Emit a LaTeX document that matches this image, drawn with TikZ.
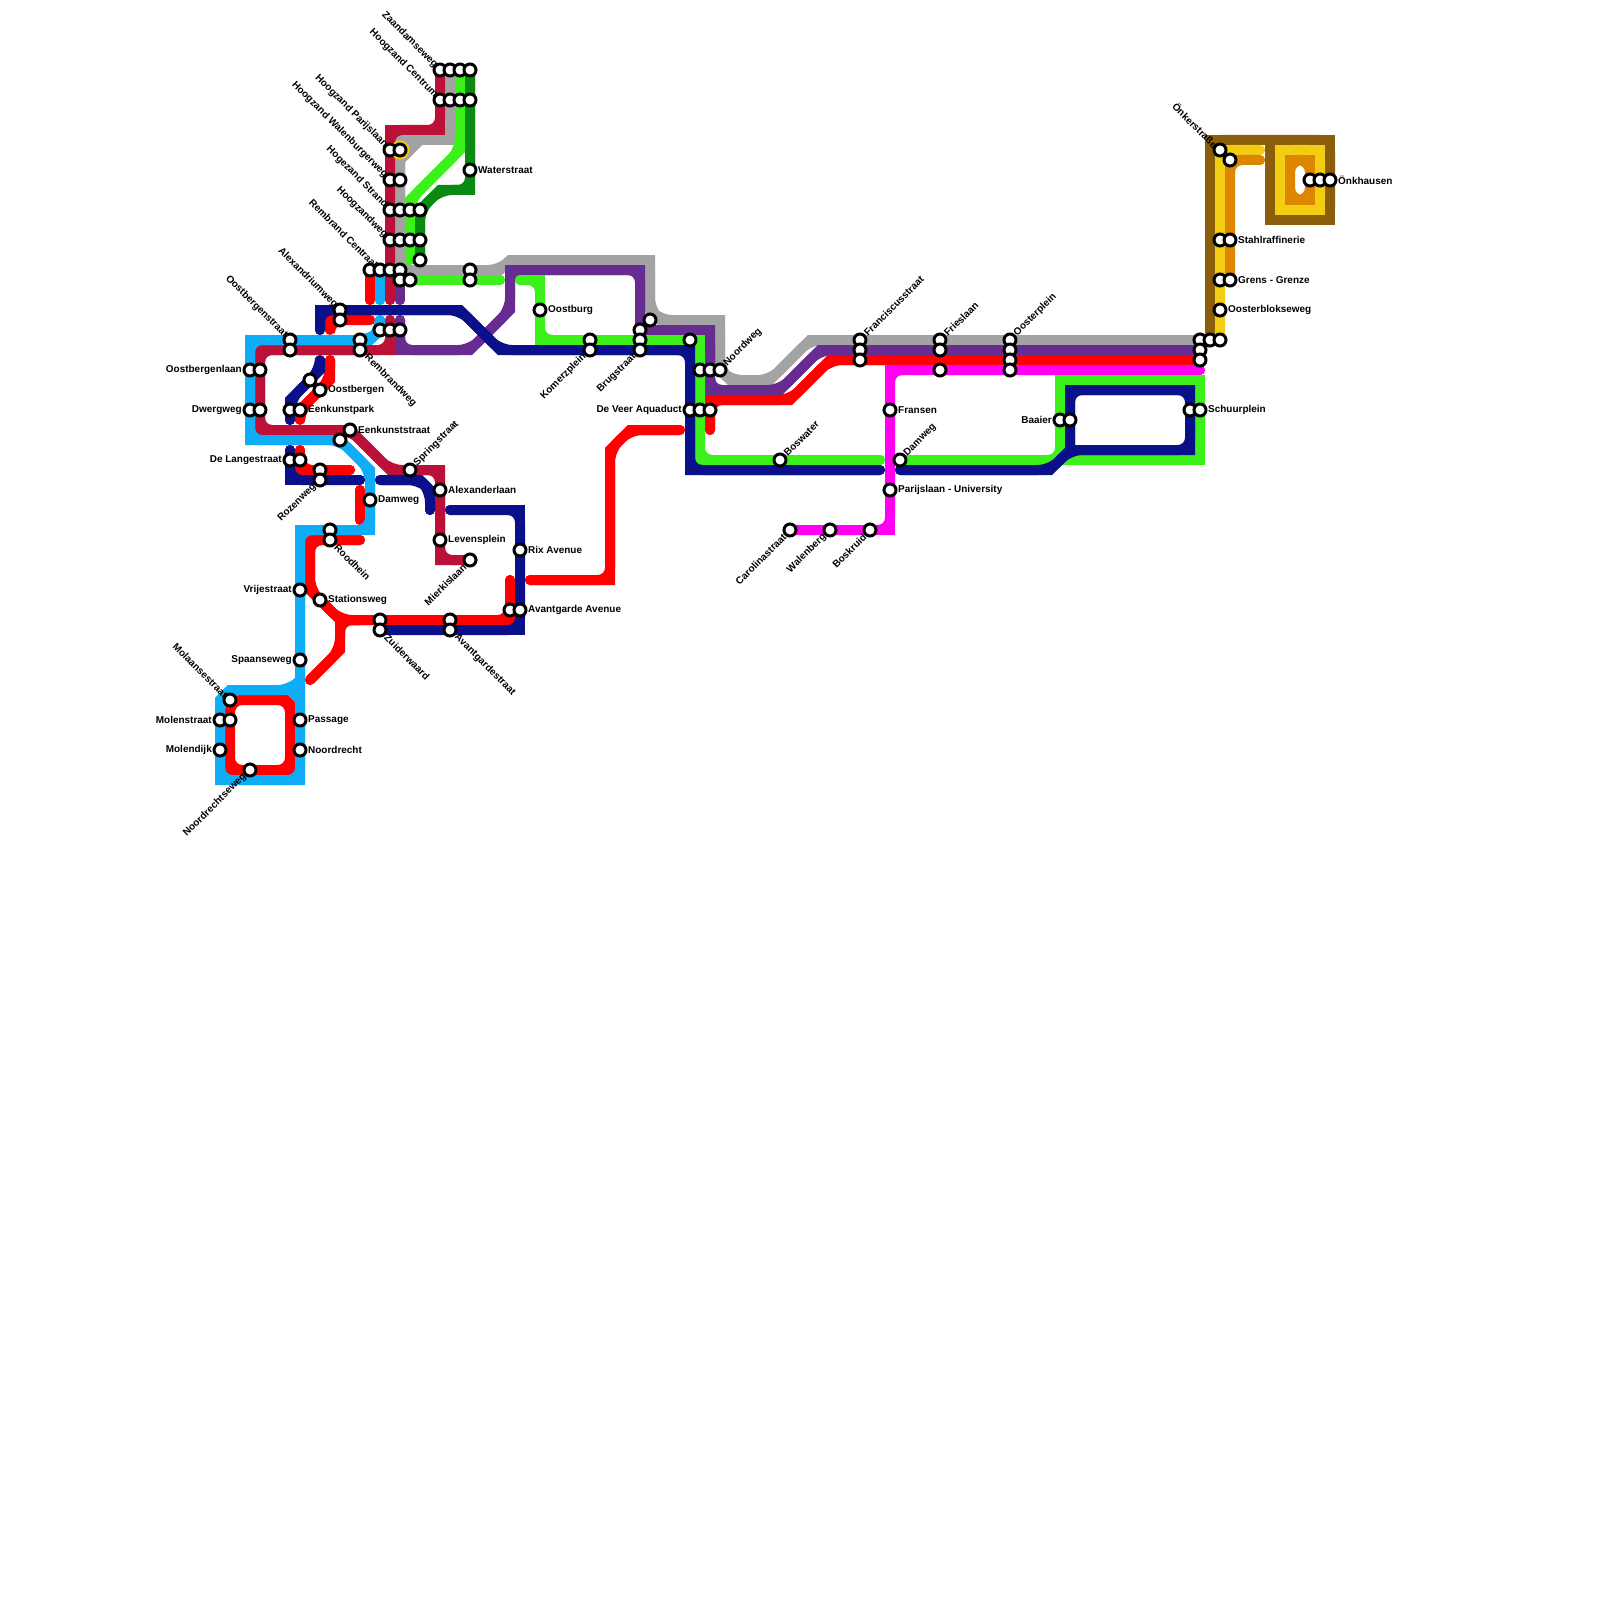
\documentclass[tikz,border=0pt]{standalone}
\usepackage{fontspec}
\setmainfont{Liberation Sans}
\usetikzlibrary{positioning}
\definecolor{railgrey}{HTML}{A3A3A3}
\definecolor{railpurple}{HTML}{662C90}
\definecolor{railgreen}{HTML}{3CF01A}
\definecolor{raildark}{HTML}{0A8A10}
\definecolor{railred}{HTML}{FF0000}
\definecolor{railpink}{HTML}{FF00F0}
\definecolor{railcrimson}{HTML}{BD1038}
\definecolor{railblue}{HTML}{0FADF5}
\definecolor{railnavy}{HTML}{0A0F8A}
\definecolor{railbrown}{HTML}{8A5E0A}
\definecolor{railyellow}{HTML}{F2CD13}
\definecolor{railorange}{HTML}{DF8600}
\pgfdeclarelayer{rails}
\pgfsetlayers{rails,main}
\tikzset{
    station/.style ={circle, draw=black, fill=white, line width=0.3mm, minimum size=1.2mm, inner sep=0pt},
    rail/.style = {line width=1mm, line cap=round, line join=miter},
    lbl/.style = {font=\bfseries\fontsize{2.835}{3.4}\selectfont, inner sep=0pt},
    tR/.style = {append after command={node[lbl,anchor=west,xshift=.75mm] at (\tikzlastnode.center) {#1}}},
    tL/.style = {append after command={node[lbl,anchor=east,xshift=-.75mm] at (\tikzlastnode.center) {#1}}},
    tUR/.style = {append after command={node[lbl,rotate=45,anchor=west,xshift=.72mm] at (\tikzlastnode.center) {#1}}},
    tUL/.style = {append after command={node[lbl,rotate=-45,anchor=east,xshift=-.5mm] at (\tikzlastnode.center) {#1}}},
    tLL/.style = {append after command={node[lbl,rotate=45,anchor=east,xshift=-.7mm] at (\tikzlastnode.center) {#1}}},
    tLR/.style = {append after command={node[lbl,rotate=-45,anchor=west,xshift=.8mm] at (\tikzlastnode.center) {#1}}}
}
\newcommand{\railline}[2]{\draw[rail,#1] #2; \draw[rail,#1,rounded corners=1.2mm] #2;}

\begin{document}
\begin{tikzpicture}[x=1mm,y=-1mm]
    \useasboundingbox (0,0) rectangle (160,160);

    % north stations
    \node[station,tUL=Zaandamseweg] (za1) at (44,7) {};
    \node[station] (za2) at (45,7) {};
    \node[station] (za3) at (46,7) {};
    \node[station] (za4) at (47,7) {};
    \node[station,tUL=Hoogzand Centrum] (hc1) at (44,10) {};
    \node[station] (hc2) at (45,10) {};
    \node[station] (hc3) at (46,10) {};
    \node[station] (hc4) at (47,10) {};
    \node[station,tUL=Hoogzand Parijslaan] (hp1) at (39,15) {};
    \node[station] (hp2) at (40,15) {};
    \node[station,tUL=Hoogzand Walenburgerweg] (hw1) at (39,18) {};
    \node[station] (hw2) at (40,18) {};
    \node[station,tR=Waterstraat] (water) at (47,17) {};
    \node[station,tUL=Hogezand Strand] (hs1) at (39,21) {};
    \node[station] (hs2) at (40,21) {};
    \node[station] (hs3) at (41,21) {};
    \node[station] (hs4) at (42,21) {};
    \node[station,tUL=Hoogzandweg] (hz1) at (39,24) {};
    \node[station] (hz2) at (40,24) {};
    \node[station] (hz3) at (41,24) {};
    \node[station] (hz4) at (42,24) {};
    \node[station] (hz5) at (42,26) {};
    \node[station] (rc1) at (37,27) {};
    \node[station,tUL=Rembrand Centraal] (rc2) at (38,27) {};
    \node[station] (rc3) at (39,27) {};
    \node[station] (rc4) at (40,27) {};
    \node[station] (rc5) at (40,28) {};
    \node[station] (rc6) at (41,28) {};
    \node[station] (pa1) at (47,27) {};
    \node[station] (pa2) at (47,28) {};

    % west stations
    \node[station,tUL=Alexandriumweg] (al1) at (34,31) {};
    \node[station] (al2) at (34,32) {};
    \node[station] (rb1) at (38,33) {};
    \node[station] (rb2) at (39,33) {};
    \node[station] (rb3) at (40,33) {};
    \node[station] (rw1) at (36,34) {};
    \node[station,tLR=Rembrandweg] (rw2) at (36,35) {};
    \node[station,tUL=Oostbergenstraat] (ob1) at (29,34) {};
    \node[station] (ob2) at (29,35) {};
    \node[station,tL=Oostbergenlaan] (ol1) at (25,37) {};
    \node[station] (ol2) at (26,37) {};
    \node[station] (os1) at (31,38) {};
    \node[station,tR=Oostbergen] (os2) at (32,39) {};
    \node[station,tL=Dwergweg] (dw1) at (25,41) {};
    \node[station] (dw2) at (26,41) {};
    \node[station] (ep1) at (29,41) {};
    \node[station,tR=Eenkunstpark] (ep2) at (30,41) {};
    \node[station,tR=Eenkunststraat] (es1) at (35,43) {};
    \node[station] (es2) at (34,44) {};
    \node[station,tL=De Langestraat] (dl1) at (29,46) {};
    \node[station] (dl2) at (30,46) {};
    \node[station] (rz1) at (32,47) {};
    \node[station,tLL=Rozenweg] (rz2) at (32,48) {};
    \node[station,tUR=Springstraat] (spring) at (41,47) {};
    \node[station,tR=Alexanderlaan] (alex) at (44,49) {};
    \node[station,tR=Damweg] (dam1) at (37,50) {};
    \node[station] (rd1) at (33,53) {};
    \node[station,tLR=Roodhein] (rd2) at (33,54) {};
    \node[station,tR=Levensplein] (leven) at (44,54) {};
    \node[station,tLL=Mierkislaan] (mier) at (47,56) {};
    \node[station,tR=Rix Avenue] (rix) at (52,55) {};
    \node[station,tL=Vrijestraat] (vrij) at (30,59) {};
    \node[station,tR=Stationsweg] (stat) at (32,60) {};
    \node[station] (aa1) at (51,61) {};
    \node[station,tR=Avantgarde Avenue] (aa2) at (52,61) {};
    \node[station] (zu1) at (38,62) {};
    \node[station,tLR=Zuiderwaard] (zu2) at (38,63) {};
    \node[station] (as1) at (45,62) {};
    \node[station,tLR=Avantgardestraat] (as2) at (45,63) {};
    \node[station,tL=Spaanseweg] (spaan) at (30,66) {};
    \node[station,tUL=Molaansestraat] (molaan) at (23,70) {};
    \node[station,tL=Molenstraat] (ms1) at (22,72) {};
    \node[station] (ms2) at (23,72) {};
    \node[station,tR=Passage] (pass) at (30,72) {};
    \node[station,tL=Molendijk] (mdijk) at (22,75) {};
    \node[station,tR=Noordrecht] (noord) at (30,75) {};
    \node[station,tLL=Noordrechtseweg] (nrw) at (25,77) {};

    % middle stations
    \node[station,tR=Oostburg] (oostb) at (54,31) {};
    \node[station] (ko1) at (59,34) {};
    \node[station,tLL=Komerzplein] (ko2) at (59,35) {};
    \node[station] (bg0) at (65,32) {};
    \node[station] (bg1) at (64,33) {};
    \node[station] (bg2) at (64,34) {};
    \node[station,tLL=Brugstraat] (bg3) at (64,35) {};
    \node[station] (nw0) at (69,34) {};
    \node[station] (nw1) at (70,37) {};
    \node[station] (nw2) at (71,37) {};
    \node[station,tUR=Noordweg] (nw3) at (72,37) {};
    \node[station,tL=De Veer Aquaduct] (dv1) at (69,41) {};
    \node[station] (dv2) at (70,41) {};
    \node[station] (dv3) at (71,41) {};
    \node[station,tUR=Boswater] (bos) at (78,46) {};
    \node[station,tLL=Carolinastraat] (caro) at (79,53) {};
    \node[station,tLL=Walenberg] (wal) at (83,53) {};
    \node[station,tLL=Boskruid] (bosk) at (87,53) {};
    \node[station,tUR=Franciscusstraat] (fr1) at (86,34) {};
    \node[station] (fr2) at (86,35) {};
    \node[station] (fr3) at (86,36) {};
    \node[station,tR=Fransen] (fransen) at (89,41) {};
    \node[station,tUR=Damweg] (dam2) at (90,46) {};
    \node[station,tR=Parijslaan - University] (pu) at (89,49) {};
    \node[station,tUR=Frieslaan] (fl1) at (94,34) {};
    \node[station] (fl2) at (94,35) {};
    \node[station] (fl3) at (94,37) {};

    % east stations
    \node[station,tUR=Oosterplein] (op1) at (101,34) {};
    \node[station] (op2) at (101,35) {};
    \node[station] (op3) at (101,36) {};
    \node[station] (op4) at (101,37) {};
    \node[station,tL=Baaier] (ba1) at (106,42) {};
    \node[station] (ba2) at (107,42) {};
    \node[station] (sp1) at (119,41) {};
    \node[station,tR=Schuurplein] (sp2) at (120,41) {};
    \node[station] (ob5) at (120,34) {};
    \node[station] (ob6) at (120,35) {};
    \node[station] (ob7) at (120,36) {};
    \node[station] (ob8) at (121,34) {};
    \node[station] (ob9) at (122,34) {};
    \node[station,tR=Oosterblokseweg] (obw) at (122,31) {};
    \node[station] (gg1) at (122,28) {};
    \node[station,tR=Grens - Grenze] (gg2) at (123,28) {};
    \node[station] (sr1) at (122,24) {};
    \node[station,tR=Stahlraffinerie] (sr2) at (123,24) {};
    \node[station,tUL=Önkerstraße] (ok1) at (122,15) {};
    \node[station] (ok2) at (123,16) {};
    \node[station] (oh1) at (131,18) {};
    \node[station] (oh2) at (132,18) {};
    \node[station,tR=Önkhausen] (oh3) at (133,18) {};

    \begin{pgfonlayer}{rails}
    % grey and purple
    \railline{railgrey}{(za2.center) -- (45,14) -- (40,14) -- (rc4.center) -- (50,27) -- (51,26) -- (65,26) -- (65,31) -- (66,32) -- (72,32) -- (nw3.center) -- (73,38) -- (77,38) -- (81,34) -- (ob5.center)}
    \railline{railgrey}{(42,14) -- (40,16)}
    \railline{railpurple}{(rc5.center) -- (40,30)}
    \railline{railpurple}{(40,32) -- (40,35) -- (47,35) -- (51,31) -- (51,27) -- (64,27) -- (bg1.center) -- (71,33) -- (71,39) -- (78,39) -- (82,35) -- (ob6.center)}

    % greens
    \railline{railgreen}{(za3.center) -- (46,15) -- (41,20) -- (41,26)}
    \railline{railgreen}{(rc6.center) -- (50,28)}
    \railline{railgreen}{(52,28) -- (54,28) -- (54,34) -- (70,34) -- (70,46) -- (88,46)}
    \railline{railgreen}{(dam2.center) -- (106,46) -- (106,38) -- (120,38) -- (120,46) -- (106,46)}
    \railline{raildark}{(za4.center) -- (47,19) -- (44,19) -- (hs4.center) -- (hz5.center)}

    % reds
    \railline{railred}{(rc1.center) -- (37,30)}
    \railline{railred}{(37,32) -- (33,32) -- (33,33)}
    \railline{railred}{(33,36) -- (33,38) -- (ep2.center) -- (30,42)}
    \railline{railred}{(30,45) -- (30,47) -- (35,47)}
    \railline{railred}{(36,49) -- (36,52)}
    \railline{railred}{(36,54) -- (31,54) -- (31,59) -- (34,62) -- (51,62) -- (51,58)}
    \railline{railred}{(31,68) -- (34,65) -- (34,62) -- (36,62)}
    \railline{railred}{(53,58) -- (61,58) -- (61,45) -- (63,43) -- (68,43)}
    \railline{railred}{(71,43) -- (71,40) -- (79,40) -- (83,36) -- (ob7.center)}
    \railline{railred}{(23,70) -- (29,70) -- (29,77) -- (23,77) -- cycle}

    \railline{railpink}{(120,37) -- (89,37) -- (89,53) -- (caro.center)}

    % crimson, blue and navy
    \railline{railcrimson}{(za1.center) -- (44,13) -- (39,13) -- (39,30)}
    \railline{railcrimson}{(39,32) -- (39,35) -- (26,35) -- (26,43) -- (35,43) -- (39,47) -- (44,47) -- (44,56) -- (mier.center)}
    \railline{railblue}{(rc2.center) -- (38,30)}
    \railline{railblue}{(38,32) -- (rb1.center) -- (37,34) -- (25,34) -- (25,44) -- (34,44) -- (37,47) -- (37,53) -- (30,53) -- (30,78) -- (22,78) -- (22,70) -- (23,69) -- (29,69) -- (30,68)}
    \railline{railblue}{(29,69) -- (30,70)}
    \railline{railnavy}{(32,33) -- (32,31) -- (46,31) -- (50,35) -- (69,35) -- (69,47) -- (88,47)}
    \railline{railnavy}{(32,36) -- (32,37) -- (29,40) -- (29,42)}
    \railline{railnavy}{(29,45) -- (29,48) -- (36,48)}
    \railline{railnavy}{(38,48) -- (42,48) -- (43,49) -- (43,51)}
    \railline{railnavy}{(45,51) -- (52,51) -- (52,63) -- (zu2.center)}
    \railline{railnavy}{(90,47) -- (105,47) -- (107,45) -- (119,45) -- (119,39) -- (107,39) -- (107,45)}

    % east end
    \railline{railbrown}{(ob8.center) -- (121,14) -- (133,14) -- (133,22) -- (127,22) -- (127,14)}
    \railline{railyellow}{(ob9.center) -- (122,15) -- (126,15)}
    \railline{railyellow}{(128,15) -- (132,15) -- (132,21) -- (128,21) -- cycle}
    \railline{railorange}{(gg2.center) -- (123,16) -- (126,16)}
    \railline{railorange}{(129,16) -- (131,16) -- (131,20) -- (129,20) -- cycle}
    \fill[railyellow] (hp2.center) circle (.95mm);
    \end{pgfonlayer}
\end{tikzpicture}
\end{document}
